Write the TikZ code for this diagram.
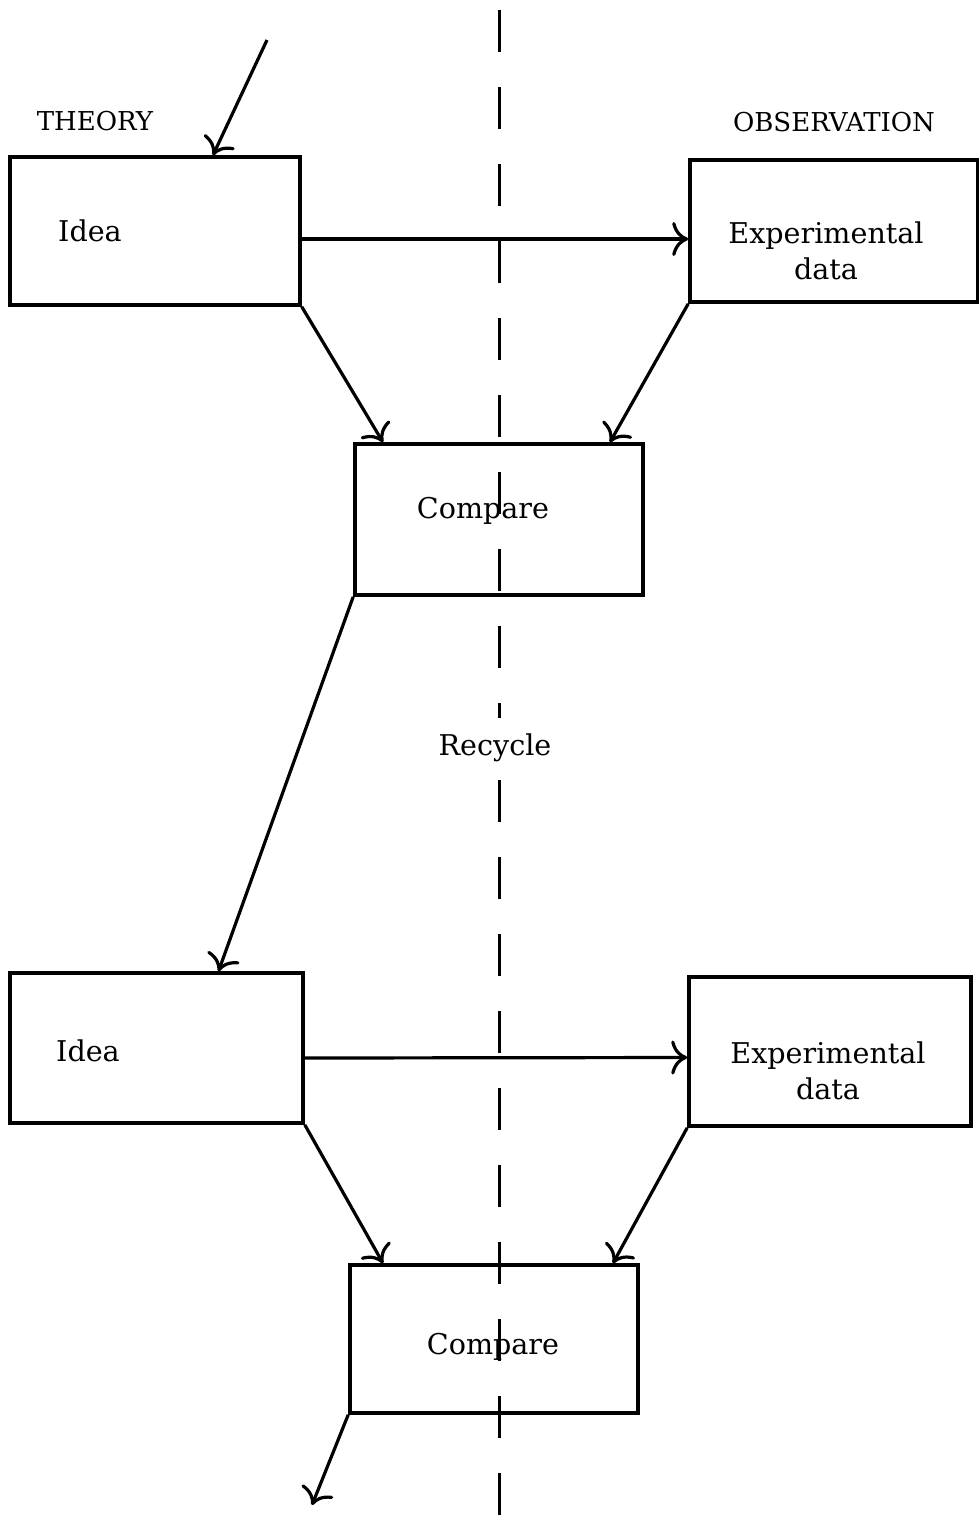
\documentclass[tikz,border=0pt]{standalone}
\usepackage{fontspec}
\setmainfont{DejaVu Serif}
\usetikzlibrary{arrows.meta}

\tikzset{
  stagebox/.style={draw, line width=1.8pt, minimum width=#1, inner sep=0pt},
  boxtext/.style={font=\fontsize{14.3}{18}\selectfont, align=center},
  sidetext/.style={font=\fontsize{13}{16}\selectfont},
  flow/.style={line width=1.6pt, -{To[length=8pt,width=17pt]}},
  dashline/.style={line width=1.5pt, dash pattern=on 21pt off 17.5pt}
}

\begin{document}
\begin{tikzpicture}[x=0.5pt, y=-0.5pt]
                \useasboundingbox (0,0) rectangle (979,1523);

                % Dividing line
                \coordinate (divtop) at (499,10);
                \coordinate (divbot) at (499,1523);
                \draw[dashline] (divtop) -- (divbot);

                % Column headings
                \node[sidetext] (theory) at (95,121) {THEORY};
                \node[sidetext] (observation) at (834,122) {OBSERVATION};

                % First cycle
                \node[stagebox=145pt, minimum height=74pt] (idea1) at (155,231) {};
                \node[boxtext] (idea1txt) at (90,231) {Idea};
                \node[stagebox=144pt, minimum height=71pt] (exp1) at (834,231) {};
                \node[boxtext] (exp1txt) at (826,251) {Experimental\\data};
                \node[stagebox=144pt, minimum height=75.5pt] (cmp1) at (499,519.5) {};
                \node[boxtext] (cmp1txt) at (483,511) {Compare};

                % Recycle label
                \node[boxtext, fill=white, inner ysep=8pt] (recycle) at (495,748) {Recycle};

                % Second cycle
                \node[stagebox=146.5pt, minimum height=75pt] (idea2) at (156.5,1048) {};
                \node[boxtext] (idea2txt) at (88,1051) {Idea};
                \node[stagebox=141pt, minimum height=74.5pt] (exp2) at (830,1051.5) {};
                \node[boxtext] (exp2txt) at (828,1071) {Experimental\\data};
                \node[stagebox=144pt, minimum height=74pt] (cmp2) at (494,1339) {};
                \node[boxtext] (cmp2txt) at (493,1347) {Compare};

                % Loose ends
                \coordinate (entry) at (267,40);
                \coordinate (exit) at (312,1505);

                % Connectors
                \draw[flow] (entry) -- ([xshift=29pt]idea1.north);
                \draw[flow] ([yshift=-4pt]idea1.east) -- ([yshift=-4pt]exp1.west);
                \draw[flow] (idea1.south east) -- ([xshift=-58pt]cmp1.north);
                \draw[flow] (exp1.south west) -- ([xshift=55.5pt]cmp1.north);
                \draw[flow] (cmp1.south west) -- ([xshift=31pt]idea2.north);
                \draw[flow] ([yshift=-5pt]idea2.east) -- ([yshift=-3pt]exp2.west);
                \draw[flow] (idea2.south east) -- ([xshift=-55.5pt]cmp2.north);
                \draw[flow] (exp2.south west) -- ([xshift=59.5pt]cmp2.north);
                \draw[flow] (cmp2.south west) -- (exit);
            \end{tikzpicture}
\end{document}
